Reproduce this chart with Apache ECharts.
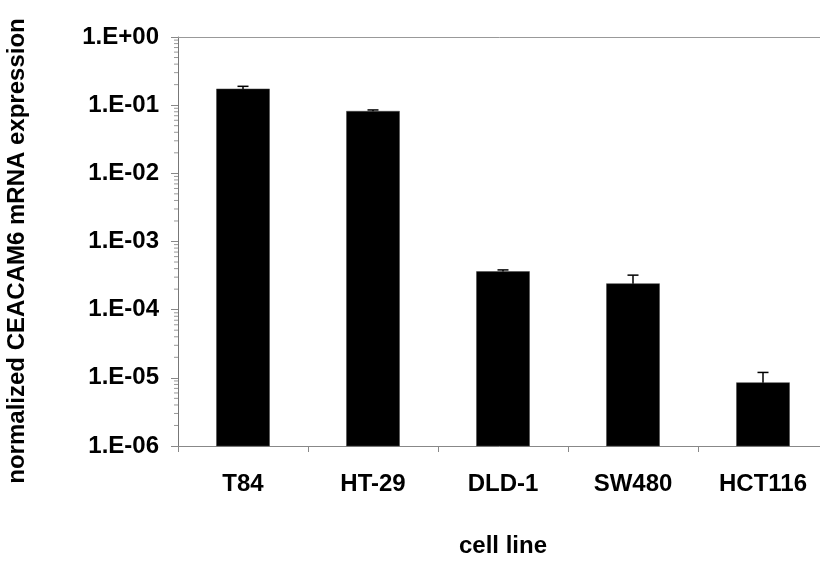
<!DOCTYPE html>
<html>
<head>
<meta charset="utf-8">
<script src="https://cdn.jsdelivr.net/npm/echarts@6/dist/echarts.min.js"></script>
<style>html,body{margin:0;padding:0;background:#fff}#c{width:820px;height:563px}</style>
</head>
<body>
<div id="c"></div>
<script>
const categories = ['T84', 'HT-29', 'DLD-1', 'SW480', 'HCT116'];
const expression = [0.173, 0.0814, 3.62e-4, 2.41e-4, 8.5e-6];
const errorUpper = [0.189, 0.0851, 3.83e-4, 3.21e-4, 1.2e-5];
const axisMin = 1e-6;
const axisMax = 1;
const minorTickValues = [];
for (let e = -6; e <= -1; e++) {
  for (let k = 2; k <= 9; k++) minorTickValues.push(k * Math.pow(10, e));
}

const FONT = '"Liberation Sans", Arial, sans-serif';
const chart = echarts.init(document.getElementById('c'), null, {renderer: 'canvas'});

function fmt(v) {
  const e = Math.round(Math.log10(v));
  const s = e < 0 ? '-' : '+';
  const a = Math.abs(e);
  return '1.E' + s + (a < 10 ? '0' : '') + a;
}

chart.setOption({
  animation: false,
  backgroundColor: '#fff',
  grid: {left: 178, top: 37, width: 650, height: 409, outerBoundsMode: 'none', containLabel: false, show: false},
  graphic: [{
    type: 'text',
    x: 17, y: 251,
    rotation: Math.PI / 2,
    style: {text: 'normalized CEACAM6 mRNA expression', fontFamily: FONT, fontWeight: 'bold', fontSize: 24,
            fill: '#000', align: 'center', verticalAlign: 'middle'}
  }],
  xAxis: [{
    type: 'category',
    data: categories,
    name: 'cell line',
    nameLocation: 'middle',
    nameGap: 88,
    nameTextStyle: {fontFamily: FONT, fontWeight: 'bold', fontSize: 24, color: '#000', verticalAlign: 'top'},
    axisLine: {lineStyle: {color: '#888', width: 1}},
    axisTick: {show: true, length: 6, lineStyle: {color: '#888'}},
    axisLabel: {fontFamily: FONT, fontWeight: 'bold', fontSize: 24, color: '#000', margin: 26, interval: 0}
  }, {
    type: 'category',
    data: categories,
    position: 'top',
    axisLine: {show: true, lineStyle: {color: '#999', width: 1}},
    axisTick: {show: false},
    axisLabel: {show: false}
  }],
  yAxis: {
    type: 'log',
    logBase: 10,
    min: axisMin,
    max: axisMax,
    axisLine: {show: true, lineStyle: {color: '#777', width: 1}},
    axisTick: {show: true, length: 7, lineStyle: {color: '#888'}},
    splitLine: {show: false},
    axisLabel: {fontFamily: FONT, fontWeight: 'bold', fontSize: 24, color: '#000', margin: 19, formatter: fmt}
  },
  series: [
    {
      type: 'custom',
      name: 'expression',
      data: categories.map((c, i) => [i, expression[i]]),
      z: 2,
      renderItem: function (params, api) {
        const top = api.coord([api.value(0), api.value(1)]);
        const base = api.coord([api.value(0), axisMin]);
        const w = 53;
        return {
          type: 'rect',
          shape: {x: top[0] - w / 2, y: top[1], width: w, height: base[1] - top[1]},
          style: {fill: '#000', stroke: '#444', lineWidth: 0.5}
        };
      }
    },
    {
      type: 'custom',
      name: 'error',
      data: categories.map((c, i) => [i, expression[i], errorUpper[i]]),
      z: 3,
      renderItem: function (params, api) {
        const top = api.coord([api.value(0), api.value(1)]);
        const up = api.coord([api.value(0), api.value(2)]);
        const hw = 5.5;
        return {
          type: 'group',
          children: [
            {type: 'line', shape: {x1: top[0], y1: top[1], x2: up[0], y2: up[1]}, style: {stroke: '#000', lineWidth: 1.5}},
            {type: 'line', shape: {x1: up[0] - hw, y1: up[1], x2: up[0] + hw, y2: up[1]}, style: {stroke: '#000', lineWidth: 1.5}}
          ]
        };
      }
    },
    {
      type: 'custom',
      name: 'minorTicks',
      data: minorTickValues.map(v => [0, v]),
      z: 3,
      silent: true,
      renderItem: function (params, api) {
        const y = api.coord([0, api.value(1)])[1];
        const x0 = params.coordSys.x;
        return {type: 'line', shape: {x1: x0 - 4, y1: y, x2: x0, y2: y}, style: {stroke: '#999', lineWidth: 1}};
      }
    }
  ]
});
</script>
</body>
</html>
